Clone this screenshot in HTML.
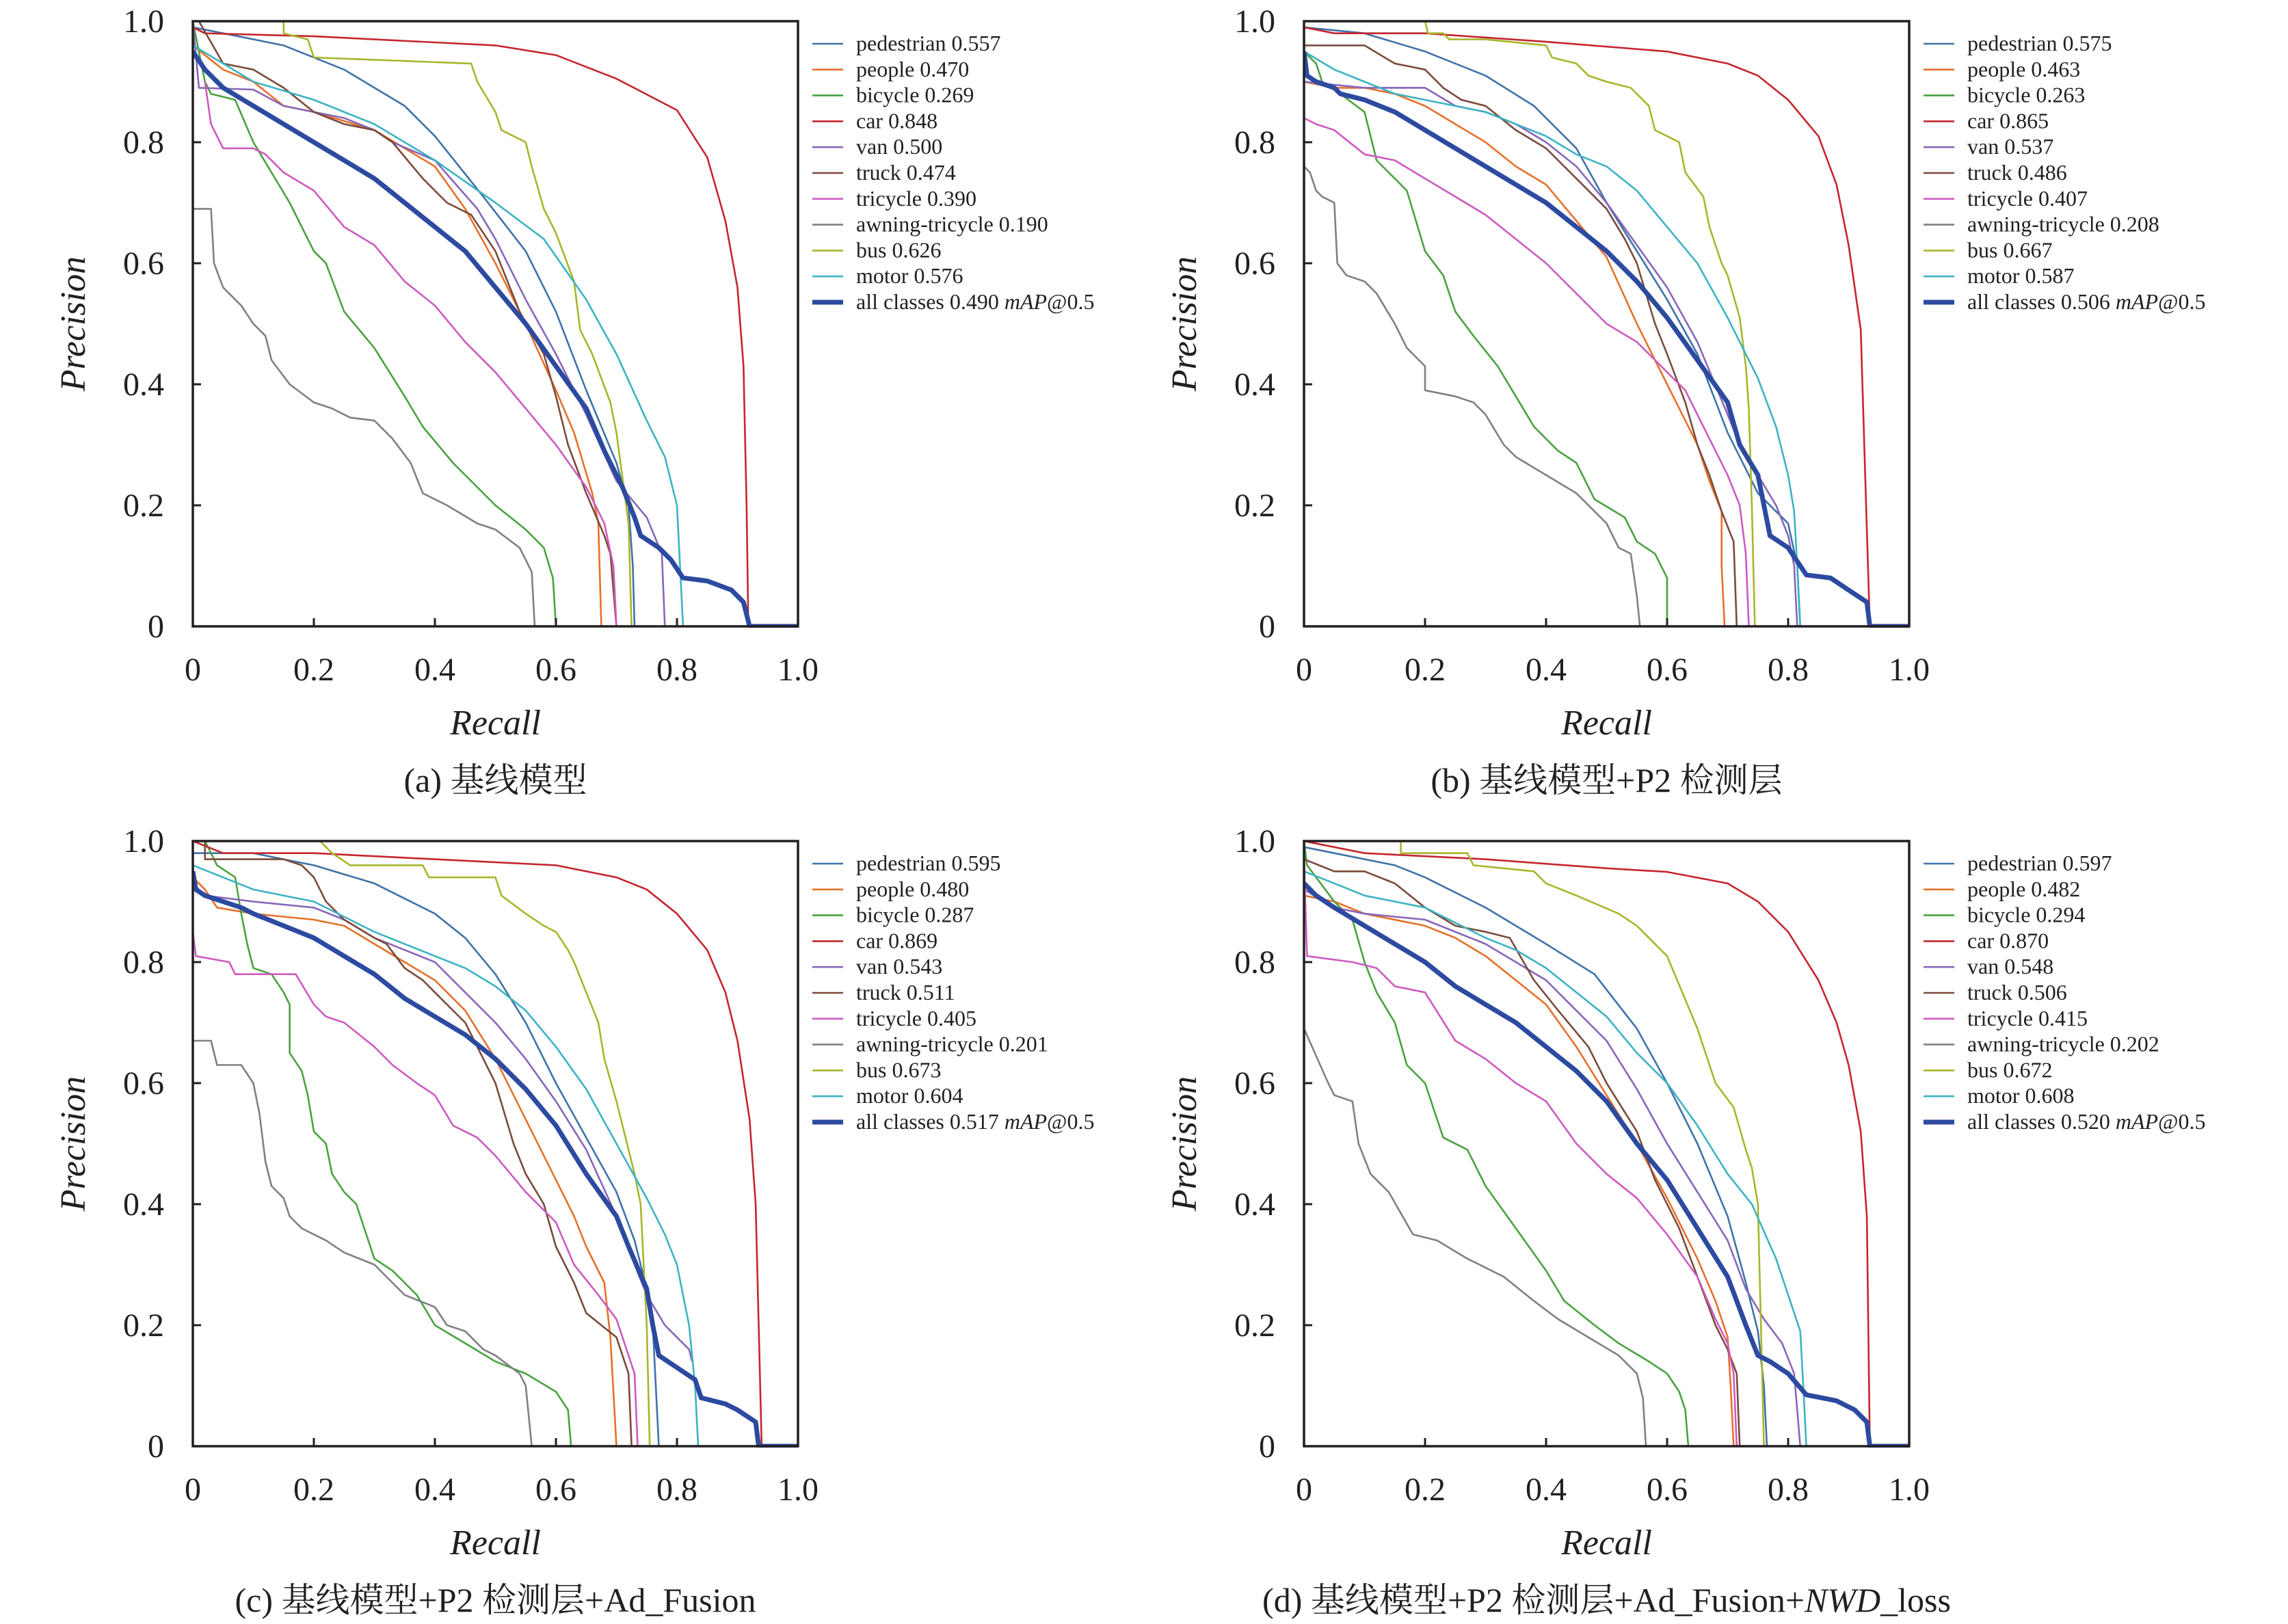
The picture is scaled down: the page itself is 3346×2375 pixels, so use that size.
<!DOCTYPE html>
<html><head><meta charset="utf-8"><style>
html,body{margin:0;padding:0;background:#fff;}
svg{display:block;}
</style></head><body>
<svg id="chart" xmlns="http://www.w3.org/2000/svg" width="3346" height="2375" viewBox="0 0 3346 2375"></svg>
<script>
const classNames = ["pedestrian","people","bicycle","car","van","truck","tricycle","awning-tricycle","bus","motor","all classes"];
const classColors = ["#3f72a8","#e5702a","#4aa140","#c4262e","#8866b8","#7a4b3c","#cc5bbf","#808080","#a9b52a","#3cb3c3","#2c4aa0"];
const xTicks = [0,0.2,0.4,0.6,0.8,1.0];
const xTickLabels = ["0","0.2","0.4","0.6","0.8","1.0"];
const yTicks = [0,0.2,0.4,0.6,0.8,1.0];
const yTickLabels = ["0","0.2","0.4","0.6","0.8","1.0"];
const captions = ["(a) 基线模型","(b) 基线模型+P2 检测层","(c) 基线模型+P2 检测层+Ad_Fusion","(d) 基线模型+P2 检测层+Ad_Fusion+<NWD>_loss"];
const mapA = ["0.557","0.470","0.269","0.848","0.500","0.474","0.390","0.190","0.626","0.576","0.490"];
const mapB = ["0.575","0.463","0.263","0.865","0.537","0.486","0.407","0.208","0.667","0.587","0.506"];
const mapC = ["0.595","0.480","0.287","0.869","0.543","0.511","0.405","0.201","0.673","0.604","0.517"];
const mapD = ["0.597","0.482","0.294","0.870","0.548","0.506","0.415","0.202","0.672","0.608","0.520"];

// Panel (a) curves: [recall, precision]
const A_pedestrian=[[0,0.99],[0.05,0.98],[0.15,0.96],[0.25,0.92],[0.35,0.86],[0.4,0.81],[0.48,0.71],[0.55,0.62],[0.6,0.52],[0.65,0.39],[0.7,0.27],[0.72,0.2],[0.727,0.1],[0.73,0]];
const A_people=[[0,0.96],[0.05,0.92],[0.1,0.9],[0.15,0.86],[0.2,0.85],[0.3,0.82],[0.35,0.79],[0.4,0.76],[0.45,0.69],[0.5,0.6],[0.55,0.5],[0.6,0.39],[0.63,0.32],[0.66,0.22],[0.67,0.17],[0.675,0]];
const A_bicycle=[[0,1.0],[0.02,0.9],[0.03,0.88],[0.07,0.87],[0.1,0.8],[0.13,0.75],[0.16,0.7],[0.2,0.62],[0.22,0.6],[0.25,0.52],[0.3,0.46],[0.35,0.38],[0.38,0.33],[0.43,0.27],[0.5,0.2],[0.55,0.16],[0.58,0.13],[0.595,0.08],[0.6,0]];
const A_car=[[0,0.99],[0.02,0.98],[0.2,0.975],[0.4,0.965],[0.5,0.96],[0.6,0.944],[0.7,0.905],[0.8,0.853],[0.85,0.775],[0.88,0.67],[0.9,0.56],[0.91,0.43],[0.915,0.2],[0.918,0]];
const A_van=[[0,1.0],[0.01,0.89],[0.1,0.887],[0.15,0.86],[0.25,0.84],[0.3,0.82],[0.33,0.8],[0.4,0.77],[0.47,0.69],[0.5,0.64],[0.55,0.54],[0.6,0.45],[0.65,0.35],[0.7,0.24],[0.75,0.18],[0.775,0.12],[0.78,0]];
const A_truck=[[0.01,1.0],[0.05,0.93],[0.1,0.92],[0.15,0.89],[0.2,0.85],[0.25,0.83],[0.3,0.82],[0.33,0.8],[0.38,0.74],[0.42,0.7],[0.46,0.68],[0.5,0.62],[0.54,0.52],[0.58,0.45],[0.6,0.38],[0.62,0.3],[0.65,0.22],[0.68,0.15],[0.69,0.12],[0.7,0]];
const A_tricycle=[[0.02,0.9],[0.03,0.83],[0.05,0.79],[0.1,0.79],[0.12,0.78],[0.15,0.75],[0.2,0.72],[0.25,0.66],[0.3,0.63],[0.35,0.57],[0.4,0.53],[0.45,0.47],[0.5,0.42],[0.55,0.36],[0.6,0.3],[0.65,0.23],[0.68,0.17],[0.695,0.1],[0.7,0]];
const A_awning=[[0,0.69],[0.03,0.69],[0.035,0.6],[0.05,0.56],[0.08,0.53],[0.1,0.5],[0.12,0.48],[0.13,0.44],[0.16,0.4],[0.2,0.37],[0.23,0.36],[0.26,0.345],[0.3,0.34],[0.33,0.31],[0.36,0.27],[0.38,0.22],[0.42,0.2],[0.47,0.17],[0.5,0.16],[0.54,0.13],[0.55,0.11],[0.56,0.09],[0.565,0]];
const A_bus=[[0.15,1.0],[0.15,0.98],[0.19,0.97],[0.2,0.94],[0.46,0.93],[0.47,0.9],[0.5,0.85],[0.51,0.82],[0.55,0.8],[0.56,0.76],[0.58,0.69],[0.6,0.65],[0.63,0.57],[0.64,0.49],[0.66,0.45],[0.69,0.37],[0.7,0.32],[0.72,0.17],[0.725,0]];
const A_motor=[[0,0.96],[0.05,0.93],[0.1,0.9],[0.2,0.87],[0.3,0.83],[0.4,0.77],[0.5,0.7],[0.58,0.64],[0.65,0.54],[0.7,0.45],[0.75,0.34],[0.78,0.28],[0.8,0.2],[0.81,0]];
const A_all=[[0,0.95],[0.02,0.92],[0.05,0.89],[0.1,0.86],[0.15,0.83],[0.2,0.8],[0.25,0.77],[0.3,0.74],[0.35,0.7],[0.4,0.66],[0.45,0.62],[0.5,0.56],[0.55,0.5],[0.6,0.43],[0.65,0.36],[0.68,0.29],[0.71,0.23],[0.73,0.18],[0.74,0.15],[0.77,0.13],[0.79,0.11],[0.81,0.08],[0.85,0.075],[0.89,0.06],[0.91,0.04],[0.92,0],[1,0]];

// Panel (b)
const B_pedestrian=[[0,0.99],[0.1,0.98],[0.2,0.95],[0.3,0.91],[0.38,0.86],[0.45,0.79],[0.5,0.7],[0.55,0.62],[0.6,0.54],[0.65,0.45],[0.7,0.32],[0.75,0.22],[0.78,0.19],[0.8,0.17],[0.815,0.1],[0.82,0]];
const B_people=[[0,0.9],[0.05,0.89],[0.1,0.89],[0.15,0.88],[0.2,0.86],[0.25,0.83],[0.3,0.8],[0.35,0.76],[0.4,0.73],[0.45,0.67],[0.5,0.61],[0.55,0.5],[0.6,0.4],[0.63,0.34],[0.65,0.3],[0.67,0.24],[0.69,0.19],[0.69,0.1],[0.695,0]];
const B_bicycle=[[0,0.95],[0.02,0.93],[0.03,0.9],[0.06,0.88],[0.1,0.85],[0.12,0.77],[0.15,0.74],[0.17,0.72],[0.2,0.62],[0.23,0.58],[0.25,0.52],[0.28,0.48],[0.32,0.43],[0.35,0.38],[0.38,0.33],[0.42,0.29],[0.45,0.27],[0.48,0.21],[0.53,0.18],[0.55,0.14],[0.58,0.12],[0.6,0.08],[0.6,0]];
const B_car=[[0,0.99],[0.05,0.98],[0.2,0.98],[0.4,0.966],[0.6,0.95],[0.7,0.93],[0.75,0.91],[0.8,0.87],[0.85,0.81],[0.88,0.73],[0.9,0.63],[0.92,0.49],[0.93,0.16],[0.935,0]];
const B_van=[[0,0.9],[0.1,0.89],[0.2,0.89],[0.25,0.86],[0.3,0.85],[0.35,0.83],[0.4,0.8],[0.45,0.76],[0.5,0.7],[0.55,0.63],[0.6,0.56],[0.65,0.47],[0.7,0.35],[0.72,0.3],[0.75,0.25],[0.78,0.2],[0.8,0.15],[0.81,0.1],[0.815,0]];
const B_truck=[[0,0.96],[0.1,0.96],[0.15,0.93],[0.2,0.92],[0.23,0.89],[0.26,0.87],[0.3,0.86],[0.35,0.82],[0.4,0.79],[0.45,0.74],[0.5,0.69],[0.53,0.64],[0.55,0.6],[0.58,0.5],[0.6,0.45],[0.63,0.37],[0.65,0.3],[0.67,0.25],[0.69,0.19],[0.71,0.14],[0.715,0]];
const B_tricycle=[[0,0.84],[0.02,0.83],[0.05,0.82],[0.1,0.78],[0.15,0.77],[0.2,0.74],[0.25,0.71],[0.3,0.68],[0.35,0.64],[0.4,0.6],[0.45,0.55],[0.5,0.5],[0.55,0.47],[0.6,0.42],[0.63,0.39],[0.66,0.33],[0.7,0.25],[0.72,0.2],[0.73,0.12],[0.735,0]];
const B_awning=[[0,0.76],[0.01,0.75],[0.02,0.72],[0.03,0.71],[0.05,0.7],[0.055,0.6],[0.07,0.58],[0.1,0.57],[0.12,0.55],[0.15,0.5],[0.17,0.46],[0.2,0.43],[0.2,0.39],[0.25,0.38],[0.28,0.37],[0.3,0.35],[0.33,0.3],[0.35,0.28],[0.4,0.25],[0.45,0.22],[0.5,0.17],[0.52,0.13],[0.54,0.12],[0.55,0.05],[0.555,0]];
const B_bus=[[0.2,1.0],[0.205,0.98],[0.23,0.98],[0.24,0.97],[0.3,0.97],[0.4,0.96],[0.41,0.94],[0.45,0.93],[0.47,0.91],[0.5,0.9],[0.54,0.89],[0.57,0.86],[0.58,0.82],[0.62,0.8],[0.63,0.75],[0.66,0.71],[0.67,0.66],[0.69,0.6],[0.7,0.58],[0.72,0.51],[0.73,0.43],[0.735,0.36],[0.74,0.2],[0.745,0]];
const B_motor=[[0,0.95],[0.05,0.92],[0.1,0.9],[0.15,0.88],[0.2,0.87],[0.3,0.85],[0.4,0.81],[0.45,0.78],[0.5,0.76],[0.55,0.72],[0.6,0.66],[0.65,0.6],[0.7,0.51],[0.75,0.41],[0.78,0.33],[0.8,0.25],[0.81,0.19],[0.815,0.1],[0.82,0]];
const B_all=[[0,0.95],[0.005,0.91],[0.02,0.9],[0.05,0.89],[0.06,0.88],[0.1,0.87],[0.15,0.85],[0.2,0.82],[0.25,0.79],[0.3,0.76],[0.35,0.73],[0.4,0.7],[0.45,0.66],[0.5,0.62],[0.55,0.57],[0.6,0.51],[0.65,0.44],[0.7,0.37],[0.72,0.3],[0.75,0.25],[0.76,0.2],[0.77,0.15],[0.8,0.13],[0.82,0.1],[0.83,0.085],[0.87,0.08],[0.9,0.06],[0.93,0.04],[0.935,0],[1,0]];

// Panel (c)
const C_pedestrian=[[0,0.98],[0.1,0.98],[0.15,0.97],[0.2,0.96],[0.3,0.93],[0.4,0.88],[0.45,0.84],[0.5,0.78],[0.55,0.7],[0.6,0.6],[0.65,0.51],[0.7,0.42],[0.73,0.34],[0.75,0.26],[0.76,0.2],[0.765,0.1],[0.77,0]];
const C_people=[[0,0.94],[0.02,0.92],[0.04,0.89],[0.1,0.88],[0.2,0.87],[0.25,0.86],[0.3,0.83],[0.35,0.8],[0.4,0.77],[0.45,0.72],[0.5,0.64],[0.55,0.54],[0.6,0.44],[0.63,0.38],[0.65,0.33],[0.68,0.27],[0.69,0.18],[0.7,0]];
const C_bicycle=[[0.02,1.0],[0.04,0.96],[0.07,0.94],[0.08,0.88],[0.09,0.83],[0.1,0.79],[0.13,0.78],[0.15,0.75],[0.16,0.73],[0.16,0.65],[0.18,0.62],[0.19,0.58],[0.2,0.52],[0.22,0.5],[0.23,0.45],[0.25,0.42],[0.27,0.4],[0.29,0.34],[0.3,0.31],[0.33,0.29],[0.35,0.27],[0.37,0.25],[0.4,0.2],[0.45,0.17],[0.5,0.14],[0.55,0.12],[0.6,0.09],[0.62,0.06],[0.625,0]];
const C_car=[[0,1.0],[0.05,0.98],[0.2,0.98],[0.4,0.97],[0.6,0.96],[0.7,0.94],[0.75,0.92],[0.8,0.88],[0.85,0.82],[0.88,0.75],[0.9,0.67],[0.92,0.54],[0.93,0.4],[0.935,0.2],[0.94,0]];
const C_van=[[0,0.93],[0.02,0.91],[0.1,0.9],[0.2,0.89],[0.25,0.87],[0.3,0.84],[0.35,0.82],[0.4,0.8],[0.45,0.75],[0.5,0.7],[0.55,0.64],[0.6,0.57],[0.65,0.49],[0.7,0.38],[0.73,0.3],[0.75,0.25],[0.78,0.2],[0.8,0.18],[0.82,0.16],[0.825,0.14]];
const C_truck=[[0.02,1.0],[0.02,0.97],[0.15,0.97],[0.18,0.96],[0.2,0.94],[0.22,0.9],[0.25,0.87],[0.3,0.84],[0.32,0.83],[0.35,0.79],[0.38,0.77],[0.42,0.73],[0.45,0.7],[0.47,0.66],[0.5,0.6],[0.53,0.5],[0.55,0.45],[0.58,0.4],[0.6,0.33],[0.63,0.27],[0.65,0.22],[0.7,0.18],[0.72,0.12],[0.725,0]];
const C_tricycle=[[0,0.85],[0.005,0.81],[0.06,0.8],[0.07,0.78],[0.17,0.78],[0.2,0.73],[0.22,0.71],[0.25,0.7],[0.3,0.66],[0.33,0.63],[0.37,0.6],[0.4,0.58],[0.43,0.53],[0.47,0.51],[0.5,0.48],[0.55,0.42],[0.6,0.37],[0.63,0.3],[0.67,0.25],[0.7,0.21],[0.72,0.15],[0.73,0.12],[0.735,0]];
const C_awning=[[0,0.67],[0.03,0.67],[0.04,0.63],[0.08,0.63],[0.1,0.6],[0.11,0.55],[0.12,0.47],[0.13,0.43],[0.15,0.41],[0.16,0.38],[0.18,0.36],[0.2,0.35],[0.22,0.34],[0.25,0.32],[0.3,0.3],[0.33,0.27],[0.35,0.25],[0.4,0.23],[0.42,0.2],[0.45,0.19],[0.48,0.16],[0.5,0.15],[0.54,0.12],[0.55,0.1],[0.56,0]];
const C_bus=[[0.21,1.0],[0.23,0.98],[0.26,0.96],[0.38,0.96],[0.39,0.94],[0.5,0.94],[0.51,0.91],[0.55,0.88],[0.58,0.86],[0.6,0.85],[0.62,0.82],[0.63,0.8],[0.65,0.75],[0.67,0.7],[0.68,0.64],[0.7,0.57],[0.71,0.53],[0.73,0.45],[0.74,0.4],[0.745,0.3],[0.75,0.2],[0.755,0]];
const C_motor=[[0,0.96],[0.05,0.94],[0.1,0.92],[0.2,0.9],[0.3,0.85],[0.4,0.81],[0.45,0.79],[0.5,0.76],[0.55,0.72],[0.6,0.66],[0.65,0.59],[0.7,0.5],[0.75,0.41],[0.78,0.35],[0.8,0.3],[0.82,0.2],[0.83,0.1],[0.835,0]];
const C_all=[[0,0.95],[0.005,0.92],[0.02,0.91],[0.05,0.9],[0.08,0.89],[0.1,0.88],[0.15,0.86],[0.2,0.84],[0.25,0.81],[0.3,0.78],[0.35,0.74],[0.4,0.71],[0.45,0.68],[0.5,0.64],[0.55,0.59],[0.6,0.53],[0.65,0.45],[0.7,0.38],[0.72,0.33],[0.75,0.26],[0.76,0.2],[0.77,0.15],[0.8,0.13],[0.83,0.11],[0.84,0.08],[0.88,0.07],[0.9,0.06],[0.93,0.04],[0.935,0],[1,0]];

// Panel (d)
const D_pedestrian=[[0,0.99],[0.05,0.98],[0.15,0.96],[0.2,0.94],[0.3,0.89],[0.4,0.83],[0.48,0.78],[0.55,0.69],[0.6,0.6],[0.65,0.5],[0.7,0.38],[0.73,0.27],[0.75,0.19],[0.76,0.1],[0.765,0]];
const D_people=[[0,0.91],[0.05,0.9],[0.1,0.88],[0.2,0.86],[0.25,0.84],[0.3,0.81],[0.35,0.77],[0.4,0.73],[0.45,0.66],[0.5,0.58],[0.55,0.5],[0.6,0.41],[0.65,0.31],[0.68,0.24],[0.7,0.18],[0.705,0.1],[0.71,0]];
const D_bicycle=[[0,1.0],[0.005,0.96],[0.05,0.9],[0.08,0.87],[0.1,0.8],[0.12,0.75],[0.15,0.7],[0.17,0.63],[0.2,0.6],[0.23,0.51],[0.27,0.49],[0.3,0.43],[0.35,0.36],[0.4,0.29],[0.43,0.24],[0.48,0.2],[0.52,0.17],[0.57,0.14],[0.6,0.12],[0.62,0.09],[0.63,0.06],[0.635,0]];
const D_car=[[0,1.0],[0.1,0.98],[0.3,0.97],[0.5,0.955],[0.6,0.949],[0.7,0.93],[0.75,0.9],[0.8,0.85],[0.85,0.77],[0.88,0.7],[0.9,0.63],[0.92,0.52],[0.93,0.38],[0.935,0]];
const D_van=[[0,0.92],[0.05,0.89],[0.1,0.88],[0.2,0.87],[0.3,0.83],[0.35,0.8],[0.4,0.77],[0.45,0.72],[0.5,0.67],[0.55,0.59],[0.6,0.5],[0.65,0.42],[0.7,0.34],[0.73,0.26],[0.76,0.21],[0.79,0.17],[0.81,0.12],[0.82,0]];
const D_truck=[[0,0.97],[0.05,0.95],[0.1,0.95],[0.15,0.93],[0.2,0.89],[0.25,0.86],[0.3,0.85],[0.34,0.84],[0.38,0.77],[0.42,0.72],[0.47,0.66],[0.5,0.6],[0.55,0.52],[0.58,0.44],[0.62,0.36],[0.65,0.28],[0.68,0.2],[0.7,0.16],[0.715,0.12],[0.72,0]];
const D_tricycle=[[0,0.97],[0.005,0.81],[0.08,0.8],[0.12,0.79],[0.15,0.76],[0.2,0.75],[0.25,0.67],[0.3,0.64],[0.35,0.6],[0.4,0.57],[0.45,0.5],[0.5,0.45],[0.55,0.41],[0.6,0.35],[0.65,0.28],[0.68,0.21],[0.7,0.17],[0.71,0.12],[0.715,0]];
const D_awning=[[0,0.69],[0.04,0.6],[0.05,0.58],[0.08,0.57],[0.09,0.5],[0.11,0.45],[0.14,0.42],[0.18,0.35],[0.22,0.34],[0.27,0.31],[0.33,0.28],[0.38,0.24],[0.42,0.21],[0.47,0.18],[0.52,0.15],[0.55,0.12],[0.56,0.08],[0.565,0]];
const D_bus=[[0.16,1.0],[0.16,0.98],[0.27,0.98],[0.28,0.96],[0.38,0.95],[0.4,0.93],[0.45,0.91],[0.52,0.88],[0.55,0.86],[0.6,0.81],[0.65,0.69],[0.68,0.6],[0.71,0.56],[0.73,0.49],[0.74,0.46],[0.75,0.4],[0.76,0]];
const D_motor=[[0,0.95],[0.05,0.93],[0.1,0.91],[0.2,0.89],[0.3,0.84],[0.35,0.82],[0.4,0.79],[0.5,0.71],[0.55,0.65],[0.6,0.6],[0.65,0.53],[0.7,0.45],[0.74,0.4],[0.78,0.31],[0.8,0.25],[0.82,0.19],[0.825,0.1],[0.83,0]];
const D_all=[[0,0.93],[0.02,0.91],[0.05,0.89],[0.1,0.86],[0.15,0.83],[0.2,0.8],[0.25,0.76],[0.3,0.73],[0.35,0.7],[0.4,0.66],[0.45,0.62],[0.5,0.57],[0.55,0.5],[0.6,0.44],[0.65,0.36],[0.7,0.28],[0.73,0.2],[0.75,0.15],[0.77,0.14],[0.8,0.12],[0.83,0.085],[0.88,0.075],[0.91,0.06],[0.93,0.04],[0.935,0],[1,0]];

const panelSeries = [
 [A_pedestrian,A_people,A_bicycle,A_car,A_van,A_truck,A_tricycle,A_awning,A_bus,A_motor,A_all],
 [B_pedestrian,B_people,B_bicycle,B_car,B_van,B_truck,B_tricycle,B_awning,B_bus,B_motor,B_all],
 [C_pedestrian,C_people,C_bicycle,C_car,C_van,C_truck,C_tricycle,C_awning,C_bus,C_motor,C_all],
 [D_pedestrian,D_people,D_bicycle,D_car,D_van,D_truck,D_tricycle,D_awning,D_bus,D_motor,D_all]
];
const panelMaps = [mapA,mapB,mapC,mapD];

const NS="http://www.w3.org/2000/svg";
const svg=document.getElementById('chart');
function mk(tag,attrs,parent){const e=document.createElementNS(NS,tag);for(const k in attrs)e.setAttribute(k,attrs[k]);(parent||svg).appendChild(e);return e;}
const FONT='"Liberation Serif","Noto Serif CJK SC","Noto Sans CJK SC",serif';
const W=885,H=885;
const origins=[[282,31],[1907,31],[282,1230],[1907,1230]];
const panelNames=['a','b','c','d'];

origins.forEach((o,p)=>{
  const L=o[0],T=o[1];
  const sx=v=>L+v*W, sy=v=>T+H-v*H;
  const g=mk('g',{});
  
  
  // clip
  const cp=mk('clipPath',{id:'clip'+p},g);
  mk('rect',{x:L,y:T-4,width:W+2,height:H+6},cp);
  const plot=mk('g',{'clip-path':'url(#clip'+p+')'},g);
  
  
  const series=panelSeries[p];
  series.forEach((pts,i)=>{
    const d=pts.map((q,j)=>(j?'L':'M')+sx(q[0]).toFixed(1)+' '+sy(q[1]).toFixed(1)).join(' ');
    const path=mk('path',{d:d,fill:'none',stroke:classColors[i],'stroke-width':i===10?7:2.6,'stroke-linejoin':'round'},plot);
    
    
  });
  // frame
  const fr=mk('rect',{x:L,y:T,width:W,height:H,fill:'none',stroke:'#231f20','stroke-width':3.5},g);
  
  
  // ticks
  xTicks.forEach((v,i)=>{
    if(i>0&&i<xTicks.length-1){mk('line',{x1:sx(v),x2:sx(v),y1:T+H,y2:T+H-12,stroke:'#231f20','stroke-width':3},g);}
    const t=mk('text',{x:sx(v),y:T+H+79,'text-anchor':'middle','font-family':FONT,'font-size':48,fill:'#231f20'},g);
    t.textContent=xTickLabels[i];
    
    
  });
  yTicks.forEach((v,i)=>{
    if(i>0&&i<yTicks.length-1){mk('line',{x1:L,x2:L+12,y1:sy(v),y2:sy(v),stroke:'#231f20','stroke-width':3},g);}
    const t=mk('text',{x:L-42,y:sy(v)+16,'text-anchor':'end','font-family':FONT,'font-size':48,fill:'#231f20'},g);
    t.textContent=yTickLabels[i];
    
    
  });
  const yt=mk('text',{x:0,y:0,transform:'translate('+(L-158)+','+(T+H/2)+') rotate(-90)','text-anchor':'middle','font-family':FONT,'font-size':52,'font-style':'italic',fill:'#231f20'},g);
  yt.textContent='Precision';
  
  
  const xt=mk('text',{x:L+W/2,y:T+H+158,'text-anchor':'middle','font-family':FONT,'font-size':52,'font-style':'italic',fill:'#231f20'},g);
  xt.textContent='Recall';
  
  
  // caption
  const cap=mk('text',{x:L+W/2,y:T+H+242,'text-anchor':'middle','font-family':FONT,'font-size':50,fill:'#231f20'},g);
  
  
  const parts=captions[p].split(/(<NWD>)/);
  parts.forEach(s=>{
    if(!s)return;
    const ts=mk('tspan',{},cap);
    if(s==='<NWD>'){ts.setAttribute('font-style','italic');ts.textContent='NWD';}
    else ts.textContent=s;
  });
  // legend
  const lg=mk('g',{},g);
  
  
  classNames.forEach((n,i)=>{
    const y=T+33+i*37.8;
    const ln=mk('line',{x1:L+W+21,x2:L+W+66,y1:y,y2:y,stroke:classColors[i],'stroke-width':i===10?7:2.6},lg);
    
    
    const t=mk('text',{x:L+W+85,y:y+10,'font-family':FONT,'font-size':32,fill:'#231f20'},lg);
    
    
    t.textContent=n+' '+panelMaps[p][i];
    if(i===10){const ts=mk('tspan',{'font-style':'italic'},t);ts.textContent=' mAP';const ts2=mk('tspan',{},t);ts2.textContent='@0.5';}
  });
});
</script>
</body></html>
